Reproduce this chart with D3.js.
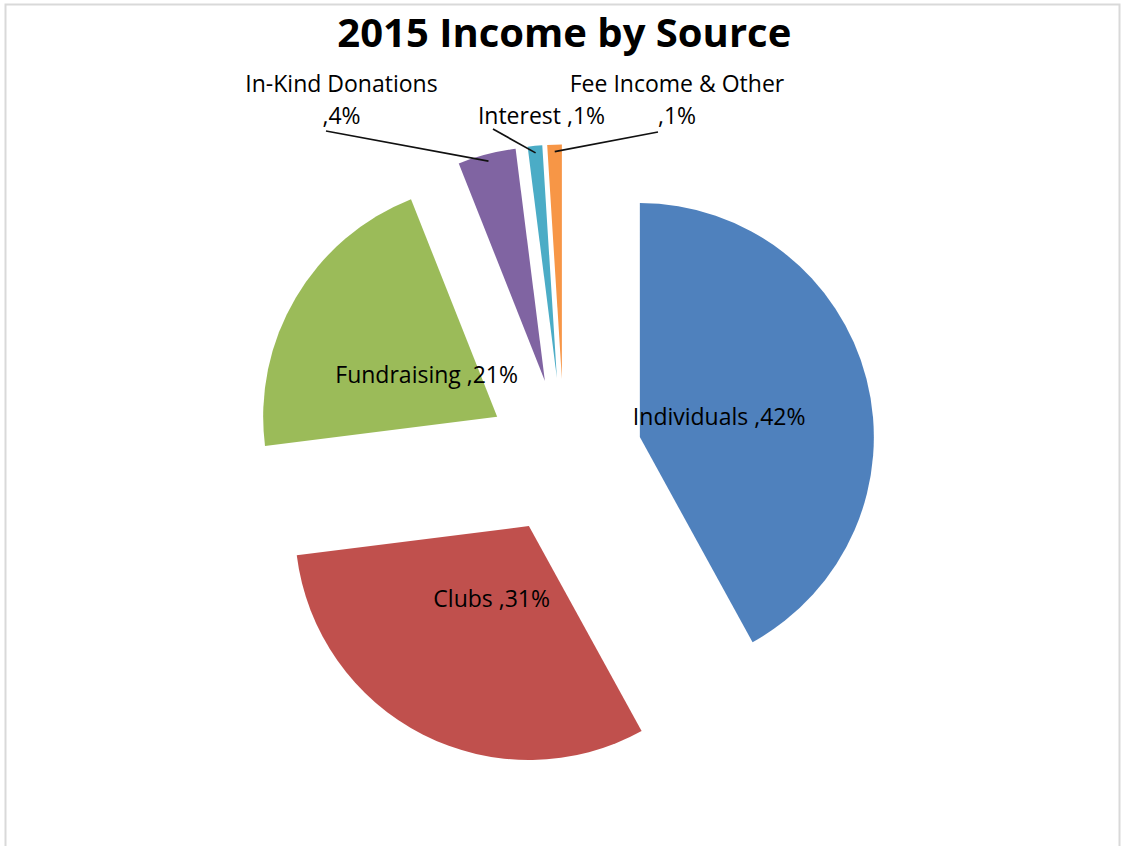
<!DOCTYPE html>
<html>
<head>
<meta charset="utf-8">
<title>2015 Income by Source</title>
<script src="https://cdn.jsdelivr.net/npm/d3@7"></script>
<style>
  body { margin: 0; background: #fff; }
  svg { display: block; }
</style>
</head>
<body>
<div id="chart"></div>
<script>
const categories = ["Individuals", "Clubs", "Fundraising", "In-Kind Donations", "Interest", "Fee Income & Other"];
const values = [42, 31, 21, 4, 1, 1]; // percent of income
const colors = ["#4F81BD", "#C0504D", "#9BBB59", "#8064A2", "#4BACC6", "#F79646"];

// labels that sit outside the pie, with leader lines (layout only)
const outsideLabels = {
  "In-Kind Donations": { x: 341.5, y: 92, lines: ["In-Kind Donations", ",4%"], lead: [-15.5, 7.5] },
  "Interest": { x: 541.5, y: 123.5, lines: ["Interest ,1%"], lead: [-48.5, 5.5] },
  "Fee Income & Other": { x: 677, y: 92, lines: ["Fee Income & Other", ",1%"], lead: [-19, 8.5] },
};

const width = 1124;
const height = 846;
const cx = 564.3; // pie centre before exploding
const cy = 456.5;
const radius = 234;
const explode = 78; // every slice is pulled out by the same amount
const labelFont = "'Open Sans', 'Noto Sans', sans-serif";
const lineHeight = 31.5;

const data = categories.map((c, i) => ({ name: c, value: values[i], color: colors[i] }));

const pie = d3.pie().sort(null).value((d) => d.value).startAngle(0).endAngle(2 * Math.PI);
const arc = d3.arc().innerRadius(0).outerRadius(radius);
const arcs = pie(data);

// point at distance r from the centre along angle a (0 = 12 o'clock, clockwise)
function polar(a, r) {
  return [r * Math.sin(a), -r * Math.cos(a)];
}
function mid(d) {
  return (d.startAngle + d.endAngle) / 2;
}

const svg = d3
  .select("#chart")
  .append("svg")
  .attr("width", width)
  .attr("height", height)
  .attr("viewBox", [0, 0, width, height]);

svg.append("rect")
  .attr("x", 5.5)
  .attr("y", 4.5)
  .attr("width", 1114)
  .attr("height", 900)
  .attr("fill", "#fff")
  .attr("stroke", "#D9D9D9")
  .attr("stroke-width", 2);

svg.append("text")
  .attr("x", cx)
  .attr("y", 47)
  .attr("text-anchor", "middle")
  .attr("font-family", labelFont)
  .attr("font-weight", "bold")
  .attr("font-size", 40)
  .attr("fill", "#000")
  .text("2015 Income by Source");

const g = svg.append("g").attr("transform", `translate(${cx},${cy})`);

g.selectAll("path")
  .data(arcs)
  .join("path")
  .attr("transform", (d) => `translate(${polar(mid(d), explode)})`)
  .attr("fill", (d) => d.data.color)
  .attr("d", arc);

// labels inside the big slices
const inside = arcs.filter((d) => !outsideLabels[d.data.name]);
g.append("g")
  .attr("font-family", labelFont)
  .attr("font-size", 23)
  .attr("fill", "#000")
  .attr("text-anchor", "middle")
  .selectAll("text")
  .data(inside)
  .join("text")
  .attr("transform", (d) => `translate(${polar(mid(d), explode + radius * 0.35)})`)
  .attr("dy", "0.36em")
  .text((d) => `${d.data.name} ,${d.data.value}%`);

// labels outside the thin slices, with leader lines
const outside = arcs.filter((d) => outsideLabels[d.data.name]);

svg.append("g")
  .attr("stroke", "#111")
  .attr("stroke-width", 1.7)
  .attr("fill", "none")
  .selectAll("line")
  .data(outside)
  .join("line")
  .each(function (d) {
    const L = outsideLabels[d.data.name];
    const last = L.y + (L.lines.length - 1) * lineHeight;
    const off = polar(mid(d), explode);
    const end = polar(mid(d), radius * 0.97);
    d3.select(this)
      .attr("x1", L.x + L.lead[0])
      .attr("y1", last + L.lead[1])
      .attr("x2", cx + off[0] + end[0])
      .attr("y2", cy + off[1] + end[1]);
  });

svg.append("g")
  .attr("font-family", labelFont)
  .attr("font-size", 23)
  .attr("fill", "#000")
  .attr("text-anchor", "middle")
  .selectAll("text")
  .data(outside)
  .join("text")
  .each(function (d) {
    const L = outsideLabels[d.data.name];
    d3.select(this)
      .selectAll("tspan")
      .data(L.lines)
      .join("tspan")
      .attr("x", L.x)
      .attr("y", (t, i) => L.y + i * lineHeight)
      .text((t) => t);
  });
</script>
</body>
</html>
